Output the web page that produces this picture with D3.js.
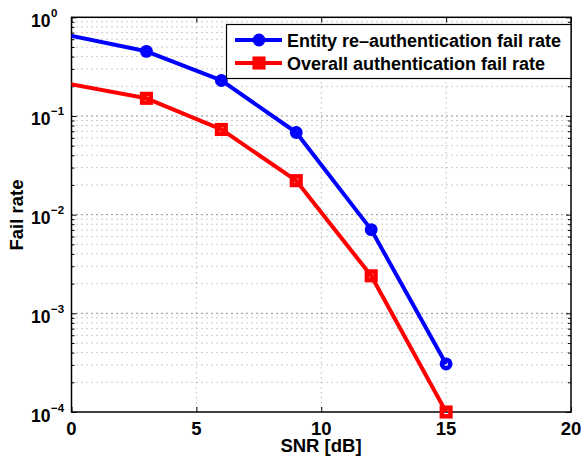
<!doctype html>
<html>
<head>
<script src="https://d3js.org/d3.v7.min.js"></script>
<style>
 body { margin: 0; background: #fff; }
 text { font-family: "Liberation Sans", Arial, sans-serif; font-weight: bold; }
</style>
</head>
<body>
<script>
// dados
var snr = [-3, 3, 6, 9, 12, 15];
var entityFail = [0.93, 0.452, 0.229, 0.068, 0.00705, 0.000307];
var overallFail = [0.29, 0.151, 0.073, 0.0221, 0.0024, 0.0001];
var xTicks = [0, 5, 10, 15, 20];
var yTicks = [1e-4, 1e-3, 1e-2, 1e-1, 1e0];
var series = [
  {name: "Entity re\u2013authentication fail rate", values: entityFail, color: "#0000ff", marker: "circle"},
  {name: "Overall authentication fail rate", values: overallFail, color: "#ff0000", marker: "square"}
];

var W = 581, H = 457;
var pL = 71.5, pR = 571, pT = 17.3, pB = 412;

var svg = d3.select("body").append("svg")
  .attr("width", W).attr("height", H);

var x = d3.scaleLinear().domain([0, 20]).range([pL, pR]);
var y = d3.scaleLog().domain([1e-4, 1]).range([pB, pT]);

// grade menor (log)
var minor = [];
for (var e = -4; e < 0; e++) {
  for (var k = 2; k <= 9; k++) minor.push(k * Math.pow(10, e));
}

svg.append("g").selectAll("line").data(minor).enter().append("line")
  .attr("x1", pL).attr("x2", pR)
  .attr("y1", d => y(d)).attr("y2", d => y(d))
  .attr("stroke", "#9a9a9a").attr("stroke-width", 1)
  .attr("stroke-dasharray", "1 4");

svg.append("g").selectAll("line").data(yTicks.slice(1, 4)).enter().append("line")
  .attr("x1", pL).attr("x2", pR)
  .attr("y1", d => y(d)).attr("y2", d => y(d))
  .attr("stroke", "#222").attr("stroke-width", 1)
  .attr("stroke-dasharray", "1 4");

svg.append("g").selectAll("line").data(xTicks.slice(1, 4)).enter().append("line")
  .attr("x1", d => x(d)).attr("x2", d => x(d))
  .attr("y1", pT).attr("y2", pB)
  .attr("stroke", "#9a9a9a").attr("stroke-width", 1)
  .attr("stroke-dasharray", "1 4");

// marcas dos eixos (para dentro)
var axB = d3.axisTop(x).tickValues(xTicks).tickSize(5).tickFormat("");
var axT = d3.axisBottom(x).tickValues(xTicks).tickSize(5).tickFormat("");
svg.append("g").attr("transform", "translate(0," + pB + ")").call(axB);
svg.append("g").attr("transform", "translate(0," + pT + ")").call(axT);

var axL = d3.axisRight(y).tickValues(yTicks).tickSize(5).tickFormat("");
var axR = d3.axisLeft(y).tickValues(yTicks).tickSize(5).tickFormat("");
var axLm = d3.axisRight(y).tickValues(minor).tickSize(3).tickFormat("");
var axRm = d3.axisLeft(y).tickValues(minor).tickSize(3).tickFormat("");
svg.append("g").attr("transform", "translate(" + pL + ",0)").call(axL);
svg.append("g").attr("transform", "translate(" + pL + ",0)").call(axLm);
svg.append("g").attr("transform", "translate(" + pR + ",0)").call(axR);
svg.append("g").attr("transform", "translate(" + pR + ",0)").call(axRm);
svg.selectAll(".domain").remove();
svg.selectAll(".tick line").attr("stroke", "#000").attr("stroke-width", 1);

svg.append("rect")
  .attr("x", pL).attr("y", pT)
  .attr("width", pR - pL).attr("height", pB - pT)
  .attr("fill", "none").attr("stroke", "#000").attr("stroke-width", 1.5);

// rotulos
svg.append("g").selectAll("text").data(xTicks).enter().append("text")
  .attr("x", d => x(d)).attr("y", 435)
  .attr("text-anchor", "middle").attr("font-size", 18.5)
  .text(d => d);

var ylab = svg.append("g");
ylab.selectAll("text.base").data(yTicks).enter().append("text")
  .attr("class", "base")
  .attr("x", 50.5).attr("y", d => y(d) + 9.5)
  .attr("text-anchor", "end").attr("font-size", 17.5)
  .text("10");
ylab.selectAll("text.exp").data(yTicks).enter().append("text")
  .attr("class", "exp")
  .attr("x", 51).attr("y", d => y(d) - 0.5)
  .attr("font-size", 11.5)
  .text(d => { var p = Math.round(Math.log10(d)); return p < 0 ? "\u2212" + (-p) : p; });

svg.append("text").attr("x", 321).attr("y", 452)
  .attr("text-anchor", "middle").attr("font-size", 18.5).text("SNR [dB]");
svg.append("text").attr("transform", "translate(23,215) rotate(-90)")
  .attr("text-anchor", "middle").attr("font-size", 18.5).text("Fail rate");

// curvas
svg.append("clipPath").attr("id", "clip").append("rect")
  .attr("x", pL).attr("y", pT).attr("width", pR - pL).attr("height", pB - pT);

var line = d3.line().x((d, i) => x(snr[i])).y(d => y(d));

function drawMarker(g, m, cx, cy, color) {
  if (m == "circle") {
    g.append("circle").attr("cx", cx).attr("cy", cy).attr("r", 4.2)
      .attr("fill", "none").attr("stroke", color).attr("stroke-width", 4.5);
  } else {
    g.append("rect").attr("x", cx - 4.3).attr("y", cy - 4.3)
      .attr("width", 8.6).attr("height", 8.6)
      .attr("fill", "none").attr("stroke", color).attr("stroke-width", 4.5);
  }
}

series.forEach(function (s) {
  svg.append("path").datum(s.values)
    .attr("clip-path", "url(#clip)")
    .attr("d", line)
    .attr("fill", "none").attr("stroke", s.color).attr("stroke-width", 4)
    .attr("stroke-linejoin", "round");
  var g = svg.append("g");
  s.values.forEach(function (v, i) {
    if (snr[i] >= 0) drawMarker(g, s.marker, x(snr[i]), y(v), s.color);
  });
});

// legenda
var lg = svg.append("g");
lg.append("rect").attr("x", 226.5).attr("y", 24.5).attr("width", 344.5).attr("height", 54)
  .attr("fill", "#fff").attr("stroke", "#000").attr("stroke-width", 1.2);
series.forEach(function (s, i) {
  var yy = 40 + i * 23;
  lg.append("line").attr("x1", 235).attr("x2", 282).attr("y1", yy).attr("y2", yy)
    .attr("stroke", s.color).attr("stroke-width", 4);
  drawMarker(lg, s.marker, 259, yy, s.color);
  lg.append("text").attr("x", 287).attr("y", yy + 6.5)
    .attr("font-size", 18).text(s.name);
});
</script>
</body>
</html>
